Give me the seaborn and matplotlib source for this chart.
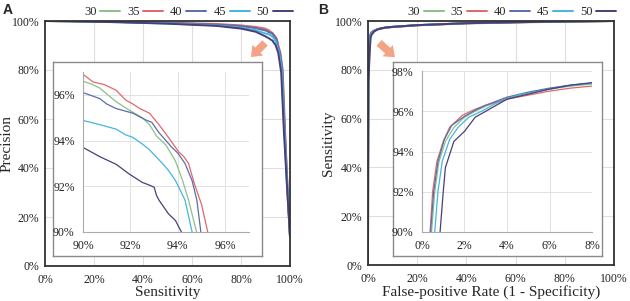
import matplotlib as mpl
import matplotlib.pyplot as plt
import pandas as pd
import seaborn as sns
from matplotlib.ticker import PercentFormatter

# ---------------- data (values in %) ----------------
series = ['30', '35', '40', '45', '50']
colors = {'30': '#8cc08a', '35': '#e2676a', '40': '#5a6ea8', '45': '#45b4e0', '50': '#4a3f74'}

# Panel A: precision vs sensitivity
sens_30 = [0, 10, 30, 50, 70, 80, 86, 90, 90.4, 90.7, 91.1, 91.4, 91.7, 92.0, 92.5, 92.8, 93.1, 93.3, 93.5, 93.9, 94.2, 94.45, 94.79, 95.7, 96.8, 97.8, 98.8, 100]
prec_30 = [100, 99.9, 99.6, 99.2, 98.6, 98.0, 97.3, 96.6, 96.45, 96.3, 95.95, 95.7, 95.5, 95.3, 95.0, 94.7, 94.2, 94.0, 93.8, 93.1, 92.25, 91.4, 90, 87, 79, 55, 32, 12]
sens_35 = [0, 10, 30, 50, 70, 80, 86, 90, 90.43, 90.9, 91.4, 91.8, 92.1, 92.4, 92.8, 93.0, 93.2, 93.6, 94.04, 94.25, 94.45, 94.7, 95.0, 95.26, 96.1, 97.0, 98.0, 99.0, 100]
prec_35 = [100, 99.9, 99.7, 99.3, 98.8, 98.2, 97.6, 96.9, 96.56, 96.45, 96.2, 95.77, 95.6, 95.4, 95.2, 94.95, 94.7, 94.14, 93.5, 93.3, 93.0, 92.1, 91.2, 90, 87, 80, 55, 32, 12]
sens_40 = [0, 10, 30, 50, 70, 80, 86, 90, 90.7, 91.0, 91.4, 92.1, 92.65, 92.9, 93.2, 93.75, 94.0, 94.3, 94.6, 94.8, 94.97, 95.9, 96.9, 97.9, 99.0, 100]
prec_40 = [100, 99.9, 99.6, 99.2, 98.5, 97.9, 97.1, 96.1, 95.84, 95.6, 95.4, 95.2, 94.9, 94.8, 94.35, 93.7, 93.45, 93.0, 92.25, 91.4, 90, 87, 80, 55, 32, 12]
sens_45 = [0, 10, 30, 50, 70, 80, 86, 90, 90.7, 91.4, 91.8, 92.1, 92.5, 92.8, 93.35, 93.6, 93.9, 94.3, 94.6, 95.6, 96.7, 97.7, 98.9, 100]
prec_45 = [100, 99.9, 99.5, 99.0, 98.2, 97.3, 96.2, 94.88, 94.7, 94.5, 94.25, 94.14, 93.85, 93.6, 93.0, 92.7, 92.25, 91.4, 90, 87, 79, 55, 32, 12]
sens_50 = [0, 10, 30, 50, 70, 80, 86, 90, 90.7, 91.4, 91.96, 92.5, 92.8, 93.0, 93.1, 93.2, 93.6, 93.9, 94.15, 95.2, 96.4, 97.5, 98.8, 100]
prec_50 = [100, 99.9, 99.5, 98.9, 98.0, 96.9, 95.6, 93.7, 93.3, 92.96, 92.53, 92.17, 92.05, 91.96, 91.6, 91.4, 90.8, 90.5, 90, 87, 79, 55, 32, 12]

# Panel B: sensitivity vs false-positive rate
fpr_30 = [0, 0.05, 0.15, 0.45, 0.6, 0.8, 1.1, 1.5, 2.0, 2.5, 3.0, 4.0, 5.0, 6.0, 7.0, 8.0, 10, 20, 40, 60, 80, 100]
tpr_30 = [0, 40, 75, 90, 92, 93.5, 94.5, 95.2, 95.7, 96.0, 96.25, 96.65, 96.9, 97.1, 97.25, 97.35, 97.6, 98.3, 99.1, 99.5, 99.8, 100]
fpr_35 = [0, 0.05, 0.15, 0.38, 0.5, 0.7, 1.0, 1.3, 1.9, 2.5, 3.0, 4.0, 5.0, 6.0, 7.0, 8.0, 10, 20, 40, 60, 80, 100]
tpr_35 = [0, 40, 75, 90, 92, 93.5, 94.5, 95.2, 95.8, 96.1, 96.3, 96.6, 96.8, 97.0, 97.15, 97.25, 97.5, 98.2, 99.0, 99.4, 99.7, 100]
fpr_40 = [0, 0.05, 0.15, 0.4, 0.55, 0.75, 1.05, 1.4, 2.0, 2.5, 3.0, 4.0, 5.0, 6.0, 7.0, 8.0, 10, 20, 40, 60, 80, 100]
tpr_40 = [0, 40, 75, 90, 92, 93.5, 94.6, 95.3, 95.75, 96.05, 96.3, 96.7, 96.95, 97.15, 97.3, 97.4, 97.6, 98.3, 99.1, 99.5, 99.8, 100]
fpr_45 = [0, 0.05, 0.15, 0.6, 0.75, 0.95, 1.3, 1.7, 2.2, 2.8, 3.5, 4.5, 5.5, 6.5, 8.0, 10, 20, 40, 60, 80, 100]
tpr_45 = [0, 40, 75, 90, 92, 93.5, 94.6, 95.2, 95.7, 96.0, 96.4, 96.8, 97.0, 97.2, 97.4, 97.6, 98.3, 99.1, 99.5, 99.8, 100]
fpr_50 = [0, 0.05, 0.15, 0.85, 1.0, 1.1, 1.5, 2.0, 2.5, 3.0, 3.5, 4.0, 5.0, 6.0, 7.0, 8.0, 10, 20, 40, 60, 80, 100]
tpr_50 = [0, 40, 75, 90, 92, 93.2, 94.5, 95.0, 95.7, 96.0, 96.3, 96.6, 96.85, 97.1, 97.3, 97.42, 97.6, 98.3, 99.1, 99.5, 99.8, 100]

pr = {'30': (sens_30, prec_30), '35': (sens_35, prec_35), '40': (sens_40, prec_40),
      '45': (sens_45, prec_45), '50': (sens_50, prec_50)}
roc = {'30': (fpr_30, tpr_30), '35': (fpr_35, tpr_35), '40': (fpr_40, tpr_40),
       '45': (fpr_45, tpr_45), '50': (fpr_50, tpr_50)}

df_a = pd.concat([pd.DataFrame({'x': v[0], 'y': v[1], 'Group': k}) for k, v in pr.items()], ignore_index=True)
df_b = pd.concat([pd.DataFrame({'x': v[0], 'y': v[1], 'Group': k}) for k, v in roc.items()], ignore_index=True)

# ---------------- style ----------------
sns.set_style('white')
mpl.rcParams['font.family'] = ['Liberation Serif', 'DejaVu Serif']
mpl.rcParams['font.size'] = 8
W, H = 630, 301

fig = plt.figure(figsize=(6.3, 3.01), dpi=100)


def px(x0, y0, x1, y1):
    # pixel box (top-left origin) -> figure fraction rect
    return [x0 / W, (H - y1) / H, (x1 - x0) / W, (y1 - y0) / H]


def style_main(ax):
    ax.set_xlim(0, 100)
    ax.set_ylim(0, 100)
    ax.set_xticks(range(0, 101, 20))
    ax.set_yticks(range(0, 101, 20))
    ax.xaxis.set_major_formatter(PercentFormatter(decimals=0))
    ax.yaxis.set_major_formatter(PercentFormatter(decimals=0))
    ax.grid(True, color='#dedede', lw=0.8)
    for s in ax.spines.values():
        s.set_color('#333333')
        s.set_linewidth(1.3)
    ax.tick_params(length=0, labelsize=8.5, pad=4, colors='#222222')
    ax.tick_params(axis='x', pad=6)


def style_inset(ax, xlim, ylim, xt, yt):
    ax.set_xlim(*xlim)
    ax.set_ylim(*ylim)
    ax.set_xticks(xt)
    ax.set_yticks(yt)
    ax.xaxis.set_major_formatter(PercentFormatter(decimals=0))
    ax.yaxis.set_major_formatter(PercentFormatter(decimals=0))
    ax.grid(True, color='#e2e2e2', lw=0.7)
    ax.spines['top'].set_visible(False)
    ax.spines['right'].set_visible(False)
    for s in ['left', 'bottom']:
        ax.spines[s].set_color('#aaaaaa')
        ax.spines[s].set_linewidth(0.8)
    ax.tick_params(length=0, labelsize=8.5, pad=6, colors='#222222')
    ax.set_xlabel('')
    ax.set_ylabel('')


def frame_box(rect):
    fr = fig.add_axes(rect)
    fr.set_xticks([])
    fr.set_yticks([])
    fr.set_facecolor('white')
    for s in fr.spines.values():
        s.set_color('#8a8a8a')
        s.set_linewidth(1.0)
    return fr


def top_legend(ax):
    ax.legend(loc='center', bbox_to_anchor=(0.585, 1.037), ncol=5, frameon=False, markerfirst=False,
              fontsize=9, handlelength=1.6, handletextpad=0.3, columnspacing=0.55, borderpad=0)


# ---------------- panel A ----------------
ax_a = fig.add_axes(px(45, 21, 290, 266))
sns.lineplot(df_a, x='x', y='y', hue='Group', palette=colors, estimator=None, sort=False,
             lw=1.4, ax=ax_a)
style_main(ax_a)
ax_a.set_xlabel('Sensitivity', fontsize=11, labelpad=0)
ax_a.set_ylabel('Precision', fontsize=11, labelpad=-1)
top_legend(ax_a)

frame_box(px(53, 62, 262, 256))
in_a = fig.add_axes(px(83, 72, 249, 232))
sns.lineplot(df_a, x='x', y='y', hue='Group', palette=colors, estimator=None, sort=False,
             lw=0.9, ax=in_a, legend=False)
style_inset(in_a, (90, 97), (90, 97), [90, 92, 94, 96], [90, 92, 94, 96])

# ---------------- panel B ----------------
ax_b = fig.add_axes(px(368, 21, 614, 265))
sns.lineplot(df_b, x='x', y='y', hue='Group', palette=colors, estimator=None, sort=False,
             lw=1.4, ax=ax_b)
style_main(ax_b)
ax_b.set_xlabel('False-positive Rate (1 - Specificity)', fontsize=11, labelpad=0)
ax_b.set_ylabel('Sensitivity', fontsize=11, labelpad=0)
top_legend(ax_b)

frame_box(px(393, 62, 602, 256))
in_b = fig.add_axes(px(422, 71, 592, 232))
sns.lineplot(df_b, x='x', y='y', hue='Group', palette=colors, estimator=None, sort=False,
             lw=0.9, ax=in_b, legend=False)
style_inset(in_b, (0, 8), (90, 98), [0, 2, 4, 6, 8], [90, 92, 94, 96, 98])

# ---------------- arrows and panel letters ----------------
arrow_style = 'simple,head_width=1.1,head_length=0.7,tail_width=0.55'
fig.add_artist(mpl.patches.FancyArrowPatch((267 / W, (H - 41) / H), (249 / W, (H - 59) / H),
                                           transform=fig.transFigure, mutation_scale=10,
                                           arrowstyle=arrow_style, color='#f4a384', lw=0))
fig.add_artist(mpl.patches.FancyArrowPatch((377 / W, (H - 41) / H), (397 / W, (H - 59) / H),
                                           transform=fig.transFigure, mutation_scale=10,
                                           arrowstyle=arrow_style, color='#f4a384', lw=0))

fig.text(3 / W, 1 - 10 / H, 'A', fontsize=10, fontweight='bold', family=['Liberation Sans'], va='center')
fig.text(318 / W, 1 - 10 / H, 'B', fontsize=10, fontweight='bold', family=['Liberation Sans'], va='center')

fig.savefig('out.png', dpi=100)
